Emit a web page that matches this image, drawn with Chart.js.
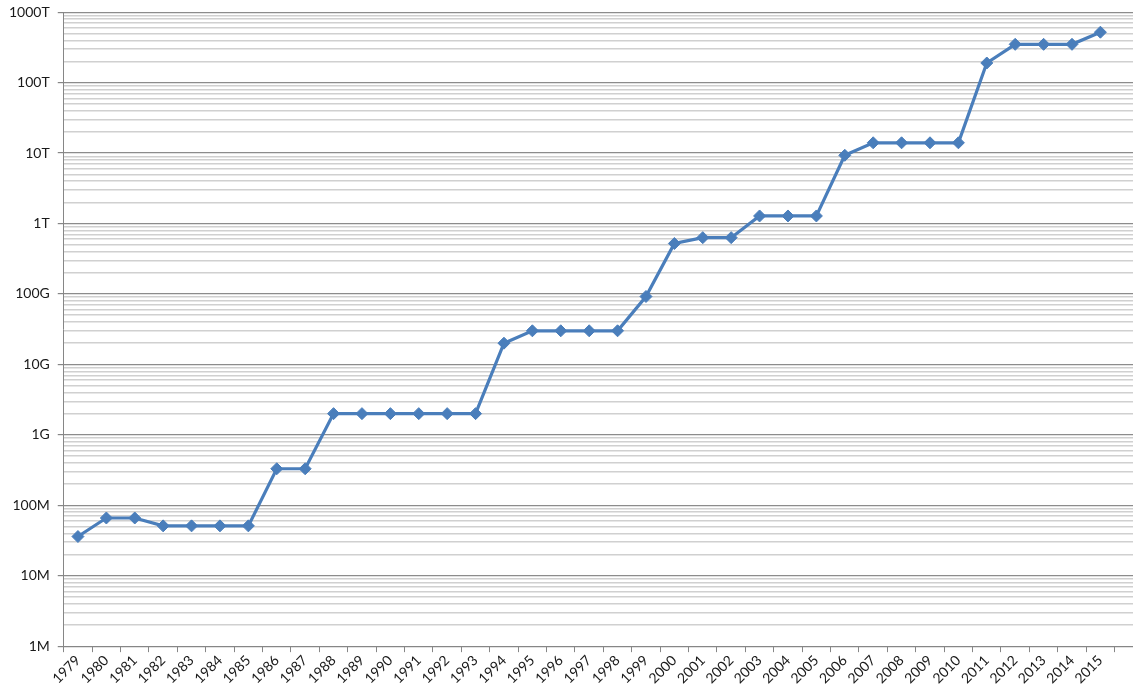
<!DOCTYPE html>
<html>
<head>
<meta charset="utf-8">
<script src="https://cdn.jsdelivr.net/npm/chart.js@4/dist/chart.umd.min.js"></script>
<style>
	html, body { margin: 0; padding: 0; background: #fff; overflow: hidden; }
	#wrap { width: 1133px; height: 692px; overflow: hidden; }
	#wrap div { width: 1150px; height: 692px; position: relative; }
</style>
</head>
<body>
<div id="wrap"><div><canvas id="capacity-chart"></canvas></div></div>
<script>
/* Years on the x axis. */
const years = [
	"1979", "1980", "1981", "1982", "1983", "1984", "1985", "1986", "1987",
	"1988", "1989", "1990", "1991", "1992", "1993", "1994", "1995", "1996",
	"1997", "1998", "1999", "2000", "2001", "2002", "2003", "2004", "2005",
	"2006", "2007", "2008", "2009", "2010", "2011", "2012", "2013", "2014", "2015",
];

/* Value for each year. */
const values = [
	36e6, 66e6, 66e6, 51e6, 51e6, 51e6, 51e6, 330e6, 330e6,
	2e9, 2e9, 2e9, 2e9, 2e9, 2e9, 20e9, 30e9, 30e9,
	30e9, 30e9, 92e9, 520e9, 630e9, 630e9, 1.28e12, 1.28e12, 1.28e12,
	9.3e12, 14e12, 14e12, 14e12, 14e12, 190e12, 350e12, 350e12, 350e12, 520e12,
];

/* Labelled decades on the y axis. */
const decadeValues = [1e6, 1e7, 1e8, 1e9, 1e10, 1e11, 1e12, 1e13, 1e14, 1e15];
const decadeLabels = ["1M", "10M", "100M", "1G", "10G", "100G", "1T", "10T", "100T", "1000T"];

const blue = "#4A7EBB";

function isDecade(v) {
	return decadeValues.some((d) => Math.abs(v - d) / d < 1e-9);
}

function decadeLabel(v) {
	const i = decadeValues.findIndex((d) => Math.abs(v - d) / d < 1e-9);
	return i < 0 ? "" : decadeLabels[i];
}

/* One spare empty slot on the right so the grid runs past 2015. */
const labels = years.concat([""]);
const points = values.concat([null]);

new Chart(
	document.getElementById("capacity-chart"),
	{
		type: "line",
		data:
		{
			labels: labels,
			datasets:
			[
				{
					data: points,
					borderColor: blue,
					backgroundColor: blue,
					borderWidth: 3.2,
					pointStyle: "rectRot",
					pointRadius: 6,
					pointBorderWidth: 1,
					tension: 0,
				},
			],
		},
		options:
		{
			responsive: true,
			maintainAspectRatio: false,
			animation: false,
			layout:
			{
				padding: { top: 0, left: 1, right: 0, bottom: 5 },
			},
			plugins:
			{
				legend: { display: false },
				tooltip: { enabled: false },
			},
			scales:
			{
				x:
				{
					offset: true,
					grid:
					{
						offset: true,
						drawOnChartArea: false,
						drawTicks: true,
						tickLength: 6,
						tickColor: "#868686",
					},
					border: { color: "#868686", width: 1 },
					ticks:
					{
						autoSkip: false,
						minRotation: 45,
						maxRotation: 45,
						padding: 0,
						color: "#1a1a1a",
						font: { family: "Lato", size: 14 },
					},
				},
				y:
				{
					type: "logarithmic",
					min: 1e6,
					max: 1e15,
					afterBuildTicks: (scale) => {
						const ticks = [];
						for (let e = 6; e < 15; e++) {
							for (let k = 1; k < 10; k++) {
								ticks.push({ value: k * Math.pow(10, e) });
							}
						}
						ticks.push({ value: 1e15 });
						scale.ticks = ticks;
					},
					grid:
					{
						color: (ctx) => isDecade(ctx.tick.value) ? "#8C8C8C" : "#D0D0D0",
						lineWidth: (ctx) => isDecade(ctx.tick.value) ? 1.2 : 1.4,
						tickColor: (ctx) => isDecade(ctx.tick.value) ? "#868686" : "rgba(0,0,0,0)",
						tickLength: 6,
					},
					border: { color: "#868686", width: 1 },
					ticks:
					{
						autoSkip: false,
						padding: 8,
						color: "#1a1a1a",
						font: { family: "Lato", size: 14, lineHeight: 0.6 },
						callback: (v) => decadeLabel(v),
					},
				},
			},
		},
	}
);
</script>
</body>
</html>
